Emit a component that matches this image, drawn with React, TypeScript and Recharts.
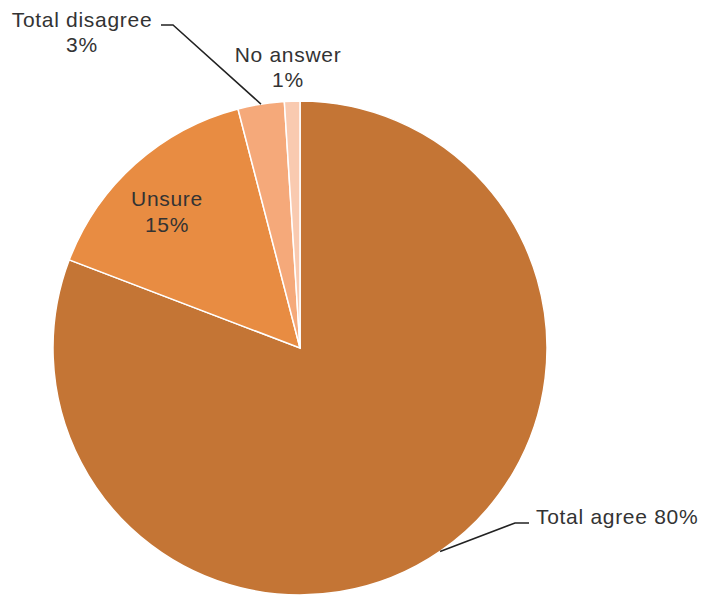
import React from "react";
import { PieChart, Pie, Cell } from "recharts";

const categories = ["Total agree", "Unsure", "Total disagree", "No answer"];
const values = [80, 15, 3, 1];
const colors = ["#C47535", "#E88C42", "#F5A97A", "#F9CAB0"];

const data = categories.map((name, i) => ({ name, value: values[i] }));

const TEXT = "#333333";
const FONT = "'Liberation Sans', Arial, sans-serif";

const renderLabel = (props: any) => {
  const { cx, cy, midAngle, outerRadius, index, name, value } = props;
  const RAD = Math.PI / 180;
  const ex = cx + outerRadius * Math.cos(-midAngle * RAD);
  const ey = cy + outerRadius * Math.sin(-midAngle * RAD);
  const common = {
    fill: TEXT,
    fontSize: 21,
    fontFamily: FONT,
    letterSpacing: 0.7,
  };
  if (index === 0) {
    const bx = cx + 215, by = cy + 175;
    return (
      <g>
        <polyline points={`${ex},${ey} ${bx},${by} ${bx + 14},${by}`} fill="none" stroke="#222" strokeWidth={1.5} />
        <text x={cx + 236} y={cy + 176} textAnchor="start" {...common}>{`${name} ${value}%`}</text>
      </g>
    );
  }
  if (index === 1) {
    return (
      <g>
        <text x={cx - 133} y={cy - 142} textAnchor="middle" {...common}>{name}</text>
        <text x={cx - 133} y={cy - 116} textAnchor="middle" {...common}>{`${value}%`}</text>
      </g>
    );
  }
  if (index === 2) {
    const bx = cx - 127, by = cy - 323;
    return (
      <g>
        <polyline points={`${ex},${ey} ${bx},${by} ${bx - 12},${by}`} fill="none" stroke="#222" strokeWidth={1.5} />
        <text x={cx - 218} y={cy - 321} textAnchor="middle" {...common}>{name}</text>
        <text x={cx - 218} y={cy - 296} textAnchor="middle" {...common}>{`${value}%`}</text>
      </g>
    );
  }
  return (
    <g>
      <text x={cx - 12} y={cy - 286} textAnchor="middle" {...common}>{name}</text>
      <text x={cx - 12} y={cy - 261} textAnchor="middle" {...common}>{`${value}%`}</text>
    </g>
  );
};

export default function App() {
  return (
    <div style={{ position: "absolute", left: 0, top: 0, background: "#fff" }}>
      <PieChart width={705} height={596} margin={{ top: 0, right: 0, bottom: 0, left: 0 }}>
        <Pie
          data={data}
          dataKey="value"
          nameKey="name"
          cx={300}
          cy={348}
          outerRadius={247}
          startAngle={90}
          endAngle={-270}
          stroke="#ffffff"
          strokeWidth={1.5}
          label={renderLabel}
          labelLine={false}
          isAnimationActive={false}
        >
          {data.map((d, i) => (
            <Cell key={d.name} fill={colors[i]} />
          ))}
        </Pie>
      </PieChart>
    </div>
  );
}
